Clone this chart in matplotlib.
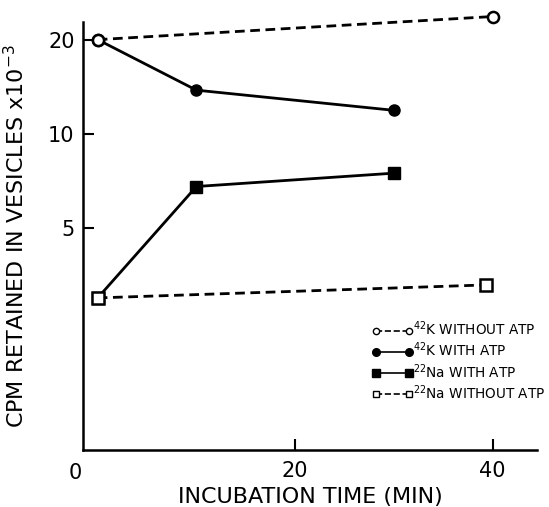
import matplotlib
matplotlib.use("Agg")
import matplotlib.pyplot as plt
from matplotlib.lines import Line2D

# data (CPM x 10^-3)
k_no_atp_t = [0, 40]
k_no_atp = [20.0, 23.7]

k_atp_t = [0, 10, 30]
k_atp = [20.0, 13.8, 11.9]

na_atp_t = [0, 10, 30]
na_atp = [3.0, 6.8, 7.5]

na_no_atp_t = [0, 39.3]
na_no_atp = [3.0, 3.3]

yticks = [5, 10, 20]
xticks = [20, 40]

legend_labels = [
    r"$^{42}$K WITHOUT ATP",
    r"$^{42}$K WITH ATP",
    r"$^{22}$Na WITH ATP",
    r"$^{22}$Na WITHOUT ATP",
]


def main():
    plt.rcParams["font.family"] = ["DejaVu Sans"]
    fig = plt.figure(figsize=(5.49, 5.07), dpi=100)
    ax = fig.add_axes([0.151, 0.112, 0.827, 0.845])

    lw = 2.0
    ax.plot(k_no_atp_t, k_no_atp, color="black", lw=lw, ls=(0, (3.5, 2)),
            marker="o", ms=8, mfc="white", mew=1.8, clip_on=False, zorder=3)
    ax.plot(k_atp_t, k_atp, color="black", lw=lw, marker="o", ms=8,
            mfc="black", clip_on=False, zorder=3)
    ax.plot(na_atp_t, na_atp, color="black", lw=lw, marker="s", ms=8,
            mfc="black", clip_on=False, zorder=3)
    ax.plot(na_no_atp_t, na_no_atp, color="black", lw=lw, ls=(0, (3.5, 2)),
            marker="s", ms=8, mfc="white", mew=1.8, clip_on=False, zorder=3)
    # redraw the first open circle on top
    ax.plot(k_no_atp_t[:1], k_no_atp[:1], ls="none", marker="o", ms=8,
            mfc="white", mec="black", mew=1.8, clip_on=False, zorder=4)

    ax.set_yscale("log")
    ax.set_ylim(0.98, 22.8)
    ax.set_xlim(-1.5, 44.5)
    ax.set_yticks(yticks)
    ax.set_yticklabels([str(v) for v in yticks])
    ax.yaxis.set_minor_locator(matplotlib.ticker.NullLocator())
    ax.set_xticks(xticks)
    ax.set_xticklabels([str(v) for v in xticks])
    ax.tick_params(direction="in", length=8, width=1.5, labelsize=15, pad=6)
    ax.tick_params(axis="x", pad=8)
    ax.text(-2.3, -0.03, "0", transform=ax.get_xaxis_transform(),
            ha="center", va="top", fontsize=15)

    for side in ["top", "right"]:
        ax.spines[side].set_visible(False)
    for side in ["left", "bottom"]:
        ax.spines[side].set_linewidth(1.8)

    ax.set_xlabel("INCUBATION TIME (MIN)", fontsize=16, labelpad=4)
    ax.set_ylabel(r"CPM RETAINED IN VESICLES x10$^{-3}$", fontsize=16,
                  labelpad=14)

    handles = [
        Line2D([], [], color="black", lw=1.2, ls="--", marker="o", ms=4.5,
               mfc="white"),
        Line2D([], [], color="black", lw=1.2, marker="o", ms=5.5, mfc="black"),
        Line2D([], [], color="black", lw=1.2, marker="s", ms=5.5, mfc="black"),
        Line2D([], [], color="black", lw=1.2, ls="--", marker="s", ms=5,
               mfc="white"),
    ]
    ax.legend(handles, legend_labels, loc="lower right", frameon=False,
              fontsize=9.8, handlelength=3.0, handletextpad=0.0,
              numpoints=2, labelspacing=0.18,
              bbox_to_anchor=(1.045, 0.085))

    fig.savefig("out.png", dpi=100)


if __name__ == "__main__":
    main()
